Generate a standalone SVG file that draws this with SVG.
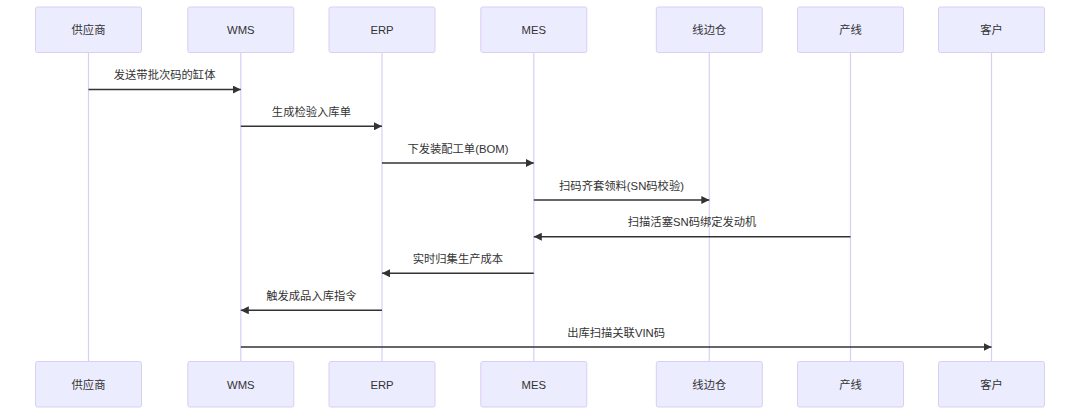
<svg xmlns="http://www.w3.org/2000/svg" width="1080" height="415" viewBox="0 0 1080 415">
<defs>
<style>
.actor{fill:#ECECFF;stroke:#DACEF3;stroke-width:1}
.life{stroke:#DACEF3;stroke-width:1.2}
.at{font-family:"Liberation Sans","Noto Sans CJK SC",sans-serif;font-size:11.3px;fill:#333;text-anchor:middle;dominant-baseline:central}
.msg{stroke:#333;stroke-width:1.4;fill:none;marker-end:url(#ah)}
.ml{font-family:"Liberation Sans","Noto Sans CJK SC",sans-serif;font-size:11.3px;fill:#333;text-anchor:middle;dominant-baseline:central}
</style>
<marker id="ah" viewBox="0 0 10 10" refX="10" refY="5" markerWidth="8" markerHeight="8" markerUnits="userSpaceOnUse" orient="auto">
<path d="M0,0 L10,5 L0,10 z" fill="#333"/>
</marker>
</defs>
<rect width="1080" height="415" fill="#fff"/>
<g id="lifelines">
<line class="life" x1="88.5" y1="52.5" x2="88.5" y2="361"/>
<line class="life" x1="240.8" y1="52.5" x2="240.8" y2="361"/>
<line class="life" x1="382" y1="52.5" x2="382" y2="361"/>
<line class="life" x1="533.8" y1="52.5" x2="533.8" y2="361"/>
<line class="life" x1="709.3" y1="52.5" x2="709.3" y2="361"/>
<line class="life" x1="850.5" y1="52.5" x2="850.5" y2="361"/>
<line class="life" x1="991.5" y1="52.5" x2="991.5" y2="361"/>
</g>
<g id="supplier"><rect class="actor" x="35.5" y="7" width="106" height="45.5" rx="2"/><text class="at" x="88.5" y="30">供应商</text>
<rect class="actor" x="35.5" y="361.5" width="106" height="45.5" rx="2"/><text class="at" x="88.5" y="384.5">供应商</text></g>
<g id="wms"><rect class="actor" x="187.8" y="7" width="106" height="45.5" rx="2"/><text class="at" x="240.8" y="30">WMS</text>
<rect class="actor" x="187.8" y="361.5" width="106" height="45.5" rx="2"/><text class="at" x="240.8" y="384.5">WMS</text></g>
<g id="erp"><rect class="actor" x="329" y="7" width="106" height="45.5" rx="2"/><text class="at" x="382" y="30">ERP</text>
<rect class="actor" x="329" y="361.5" width="106" height="45.5" rx="2"/><text class="at" x="382" y="384.5">ERP</text></g>
<g id="mes"><rect class="actor" x="480.8" y="7" width="106" height="45.5" rx="2"/><text class="at" x="533.8" y="30">MES</text>
<rect class="actor" x="480.8" y="361.5" width="106" height="45.5" rx="2"/><text class="at" x="533.8" y="384.5">MES</text></g>
<g id="linestore"><rect class="actor" x="656.3" y="7" width="106" height="45.5" rx="2"/><text class="at" x="709.3" y="30">线边仓</text>
<rect class="actor" x="656.3" y="361.5" width="106" height="45.5" rx="2"/><text class="at" x="709.3" y="384.5">线边仓</text></g>
<g id="line"><rect class="actor" x="797.5" y="7" width="106" height="45.5" rx="2"/><text class="at" x="850.5" y="30">产线</text>
<rect class="actor" x="797.5" y="361.5" width="106" height="45.5" rx="2"/><text class="at" x="850.5" y="384.5">产线</text></g>
<g id="customer"><rect class="actor" x="938.5" y="7" width="106" height="45.5" rx="2"/><text class="at" x="991.5" y="30">客户</text>
<rect class="actor" x="938.5" y="361.5" width="106" height="45.5" rx="2"/><text class="at" x="991.5" y="384.5">客户</text></g>
<g id="messages">
<line class="msg" x1="88.5" y1="89.5" x2="240.8" y2="89.5"/><text class="ml" x="164.6" y="75">发送带批次码的缸体</text>
<line class="msg" x1="240.8" y1="126.3" x2="382" y2="126.3"/><text class="ml" x="311.4" y="112">生成检验入库单</text>
<line class="msg" x1="382" y1="163" x2="533.8" y2="163"/><text class="ml" x="457.9" y="148.5">下发装配工单(BOM)</text>
<line class="msg" x1="533.8" y1="200" x2="709.3" y2="200"/><text class="ml" x="621.5" y="185.5">扫码齐套领料(SN码校验)</text>
<line class="msg" x1="850.5" y1="236.7" x2="533.8" y2="236.7"/><text class="ml" x="692.1" y="222">扫描活塞SN码绑定发动机</text>
<line class="msg" x1="533.8" y1="273.3" x2="382" y2="273.3"/><text class="ml" x="457.9" y="259">实时归集生产成本</text>
<line class="msg" x1="382" y1="310.3" x2="240.8" y2="310.3"/><text class="ml" x="311.4" y="296">触发成品入库指令</text>
<line class="msg" x1="240.8" y1="347" x2="991.5" y2="347"/><text class="ml" x="616.1" y="332.5">出库扫描关联VIN码</text>
</g>
</svg>
